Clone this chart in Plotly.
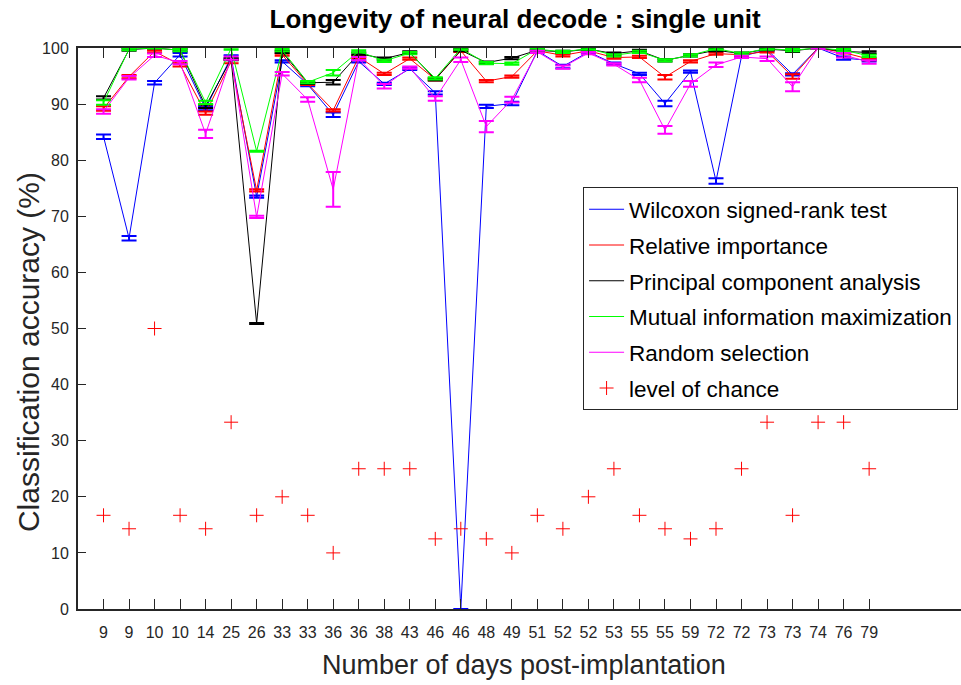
import plotly.graph_objects as go

days = ["9","9","10","10","14","25","26","33","33","36","36","38","43","46","46","48",
        "49","51","52","52","53","55","55","59","72","72","73","73","74","76","79"]

wilcoxon = [84.2, 66.1, 93.8, 98.8, 89.2, 98.4, 73.5, 97.6, 93.5, 88.1, 97.6, 93.6, 96.3, 92.0, 0.0, 89.6,
            90.1, 99.5, 96.7, 99.3, 97.2, 95.4, 90.1, 95.8, 76.3, 98.5, 99.7, 95.3, 100, 98.2, 97.8]
wilcoxon_err = [0.4, 0.4, 0.3, 0.3, 0.3, 0.3, 0.2, 0.2, 0.3, 0.4, 0.2, 0.2, 0.2, 0.3, 0.0, 0.3,
                0.3, 0.2, 0.3, 0.2, 0.2, 0.2, 0.5, 0.2, 0.5, 0.2, 0.2, 0.2, 0.1, 0.3, 0.2]

relative = [89.2, 94.9, 99.4, 97.0, 88.4, 97.6, 74.6, 98.8, 93.6, 88.9, 98.4, 95.4, 98.1, 94.4, 99.5, 94.1,
            94.9, 99.5, 98.7, 99.5, 98.3, 98.4, 94.8, 97.6, 99.0, 98.8, 99.4, 94.9, 100, 99.2, 98.0]
relative_err = [0.4, 0.3, 0.2, 0.3, 0.3, 0.3, 0.2, 0.2, 0.2, 0.2, 0.2, 0.2, 0.2, 0.2, 0.2, 0.2,
                0.2, 0.2, 0.2, 0.2, 0.2, 0.2, 0.4, 0.2, 0.2, 0.2, 0.2, 0.4, 0.1, 0.2, 0.2]

pca = [91.1, 99.7, 100, 99.6, 89.6, 98.0, 50.9, 99.3, 93.8, 93.9, 99.0, 98.1, 99.2, 94.4, 99.6, 97.4,
       98.2, 99.6, 99.3, 99.8, 99.0, 99.5, 97.8, 98.7, 99.6, 99.0, 99.8, 99.5, 100, 99.4, 99.2]
pca_err = [0.3, 0.2, 0.1, 0.2, 0.3, 0.2, 0.1, 0.2, 0.2, 0.4, 0.2, 0.2, 0.2, 0.2, 0.2, 0.2,
           0.2, 0.2, 0.2, 0.2, 0.2, 0.2, 0.2, 0.2, 0.2, 0.2, 0.2, 0.2, 0.1, 0.2, 0.2]

mutual = [90.3, 99.8, 100, 99.6, 90.3, 99.9, 81.6, 99.6, 93.9, 95.6, 99.4, 97.7, 99.1, 94.6, 99.9, 97.3,
          97.2, 99.8, 99.3, 99.9, 98.7, 99.3, 97.8, 98.7, 99.9, 99.0, 99.9, 99.6, 100, 99.6, 98.6]
mutual_err = [0.4, 0.2, 0.1, 0.2, 0.3, 0.2, 0.1, 0.2, 0.2, 0.5, 0.2, 0.2, 0.2, 0.2, 0.2, 0.2,
              0.2, 0.2, 0.2, 0.2, 0.2, 0.2, 0.2, 0.2, 0.2, 0.2, 0.2, 0.2, 0.1, 0.2, 0.2]

random_sel = [88.7, 94.7, 98.7, 97.4, 84.7, 98.2, 69.9, 95.4, 90.8, 74.8, 98.1, 93.2, 96.5, 91.0, 97.9, 86.0,
              90.8, 99.3, 96.6, 99.1, 97.1, 94.3, 85.4, 93.6, 97.0, 98.4, 98.1, 93.1, 100, 98.7, 97.5]
random_err = [0.4, 0.3, 0.3, 0.3, 0.75, 0.3, 0.2, 0.3, 0.4, 3.1, 0.3, 0.4, 0.2, 0.4, 0.4, 1.0,
              0.5, 0.2, 0.3, 0.2, 0.2, 0.4, 0.7, 0.5, 0.4, 0.2, 0.4, 0.8, 0.1, 0.4, 0.3]

chance = [16.7, 14.3, 50.0, 16.7, 14.3, 33.3, 16.7, 20.0, 16.7, 10.0, 25.0, 25.0, 25.0, 12.5, 14.3, 12.5,
          10.0, 16.7, 14.3, 20.0, 25.0, 16.7, 14.3, 12.5, 14.3, 25.0, 33.3, 16.7, 33.3, 33.3, 25.0]

x = list(range(1, len(days) + 1))

series = [
    ("Wilcoxon signed-rank test", wilcoxon, wilcoxon_err, "#0000ff"),
    ("Relative importance", relative, relative_err, "#ff0000"),
    ("Principal component analysis", pca, pca_err, "#000000"),
    ("Mutual information maximization", mutual, mutual_err, "#00ff00"),
    ("Random selection", random_sel, random_err, "#ff00ff"),
]

fig = go.Figure()
for i, (name, vals, err, col) in enumerate(series):
    fig.add_trace(go.Scatter(
        x=x, y=vals, name=name, mode="lines", legendgroup=f"g{i}",
        line=dict(color=col, width=1),
        error_y=dict(type="data", array=err, visible=True, color=col, thickness=2, width=7.5),
    ))

fig.add_trace(go.Scatter(
    x=x, y=chance, name="level of chance", mode="markers", legendgroup="g5",
    marker=dict(symbol="cross-thin", size=10, line=dict(color="#ff0000", width=1), color="#ff0000"),
))

fig.update_layout(
    width=961, height=685,
    margin=dict(l=78, r=0, t=48, b=76),
    paper_bgcolor="white", plot_bgcolor="white",
    font=dict(family="Liberation Sans, Arial, sans-serif", color="#262626"),
    title=dict(text="<b>Longevity of neural decode : single unit</b>",
               x=0.536, xanchor="center", y=1 - 19 / 685, yanchor="middle", yref="container",
               font=dict(size=26, color="#000000", family="Liberation Sans, Arial, sans-serif")),
    showlegend=True,
    legend=dict(x=0.572, y=0.752, xanchor="left", yanchor="top",
                bgcolor="white", bordercolor="#262626", borderwidth=1, itemwidth=35,
                font=dict(size=22.5, color="#000000"), tracegroupgap=3.5),
    annotations=[
        dict(text="Number of days post-implantation", xref="paper", yref="paper",
             x=0.505, y=-0.0998, xanchor="center", yanchor="middle", showarrow=False,
             font=dict(size=27, color="#262626")),
        dict(text="Classification accuracy (%)", xref="paper", yref="paper",
             x=-0.0566, y=0.458, xanchor="center", yanchor="middle", showarrow=False,
             textangle=-90, font=dict(size=30, color="#262626")),
    ],
)

fig.update_xaxes(
    range=[0, 34.6], tickmode="array", tickvals=x, ticktext=days,
    ticks="inside", ticklen=10, tickwidth=1, tickcolor="#262626",
    showline=True, linecolor="#262626", linewidth=2, mirror="ticks",
    showgrid=False, zeroline=False, tickfont=dict(size=16), ticklabelstandoff=8,
)
fig.update_yaxes(
    range=[0, 100], tickmode="array", tickvals=list(range(0, 101, 10)),
    ticks="inside", ticklen=8, tickwidth=1, tickcolor="#262626",
    showline=True, linecolor="#262626", linewidth=2,
    showgrid=False, zeroline=False, tickfont=dict(size=16), ticklabelstandoff=4,
)

fig.write_html("out.html", config={"displayModeBar": False},
               post_script="document.body.style.margin='0';")
